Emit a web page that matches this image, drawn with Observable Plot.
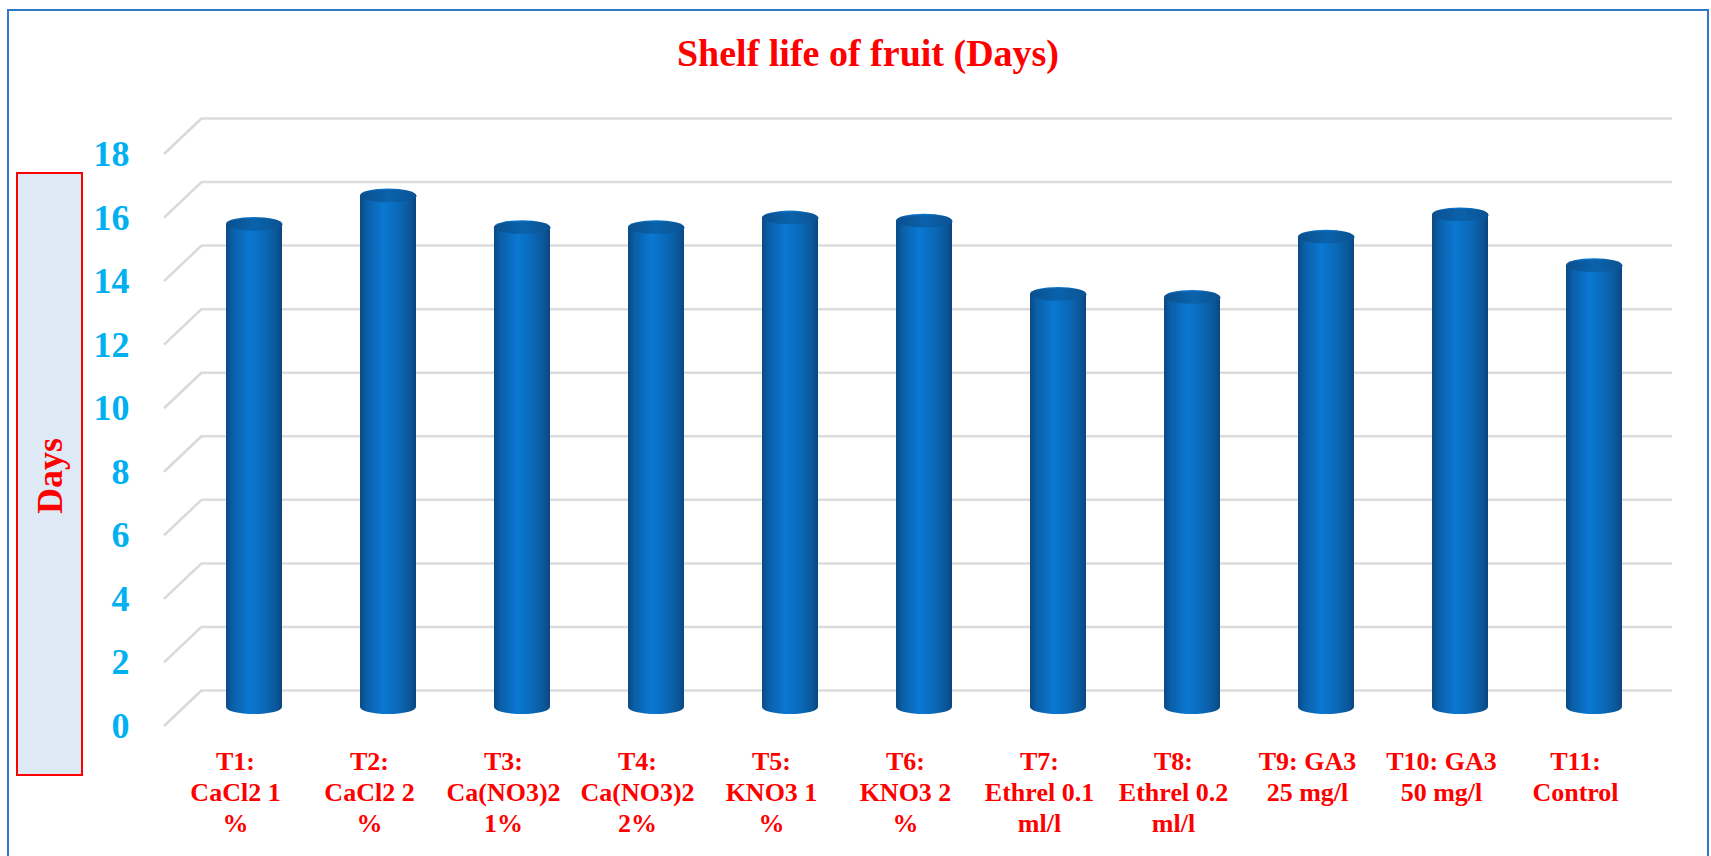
<!DOCTYPE html>
<html>
<head>
<meta charset="utf-8">
<script src="https://cdn.jsdelivr.net/npm/d3@7"></script>
<script src="https://cdn.jsdelivr.net/npm/@observablehq/plot@0.6"></script>
<style>
  html, body { margin: 0; padding: 0; background: #ffffff; }
  body { width: 1711px; height: 856px; position: relative; overflow: hidden; font-family: "Liberation Serif", "Times New Roman", serif; }
  #frame { position: absolute; left: 7px; top: 9px; width: 1702px; height: 870px; box-sizing: border-box; border: 2px solid #2E78C6; pointer-events: none; z-index: 3; }
  #title { position: absolute; left: 0; top: 31px; width: 1736px; text-align: center; font-size: 38px; line-height: 44px; font-weight: bold; color: #FF0000; }
  #ybox { position: absolute; left: 16px; top: 172px; width: 67px; height: 604px; box-sizing: border-box; border: 2px solid #FF0000; background: #DEEAF6; z-index: 2; }
  #ybox span { position: absolute; left: 50%; top: 302px; transform: translate(-50%, -50%) rotate(-90deg); font-size: 36px; font-weight: bold; color: #FF0000; white-space: nowrap; line-height: 40px; }
  #chart { position: absolute; left: 0; top: 90px; }
</style>
</head>
<body>
<div id="frame"></div>
<div id="title">Shelf life of fruit (Days)</div>
<div id="ybox"><span>Days</span></div>
<div id="chart"></div>
<script>
// ---- data ----
const categories = ["T1", "T2", "T3", "T4", "T5", "T6", "T7", "T8", "T9", "T10", "T11"];
const tickLabels = [
  "T1:\nCaCl2 1\n%",
  "T2:\nCaCl2 2\n%",
  "T3:\nCa(NO3)2\n1%",
  "T4:\nCa(NO3)2\n2%",
  "T5:\nKNO3 1\n%",
  "T6:\nKNO3 2\n%",
  "T7:\nEthrel 0.1\nml/l",
  "T8:\nEthrel 0.2\nml/l",
  "T9: GA3\n25 mg/l",
  "T10: GA3\n50 mg/l",
  "T11:\nControl"
];
const shelfLife = [15.2, 16.1, 15.1, 15.1, 15.4, 15.3, 13.0, 12.9, 14.8, 15.5, 13.9];
const yTicks = [0, 2, 4, 6, 8, 10, 12, 14, 16, 18];

const rows = categories.map((c, i) => ({treatment: c, days: shelfLife[i]}));
const labelOf = new Map(categories.map((c, i) => [c, tickLabels[i]]));

// ellipse symbol for cylinder caps
const ellipse = {
  draw(ctx, size) {
    const rx = Math.sqrt(size / Math.PI);
    const ry = rx * 0.22;
    const k = 0.5523;
    ctx.moveTo(-rx, 0);
    ctx.bezierCurveTo(-rx, -ry * k, -rx * k, -ry, 0, -ry);
    ctx.bezierCurveTo(rx * k, -ry, rx, -ry * k, rx, 0);
    ctx.bezierCurveTo(rx, ry * k, rx * k, ry, 0, ry);
    ctx.bezierCurveTo(-rx * k, ry, -rx, ry * k, -rx, 0);
    ctx.closePath();
  }
};

// perspective side lines on the left of the back wall
function sideLines(index, scales, values, dimensions) {
  const g = d3.create("svg:g");
  const x0 = dimensions.marginLeft - 20;
  const x1 = dimensions.marginLeft + 18;
  for (const t of yTicks) {
    const yy = scales.y(t);
    g.append("line")
      .attr("x1", x0).attr("y1", yy + 19)
      .attr("x2", x1).attr("y2", yy - 17)
      .attr("stroke", "#d9d9d9").attr("stroke-width", 2.5);
  }
  return g.node();
}

const plot = Plot.plot({
  width: 1711,
  height: 766,
  marginLeft: 184,
  marginRight: 47,
  marginTop: 45,
  marginBottom: 149,
  style: {background: "none", fontFamily: "'Liberation Serif', 'Times New Roman', serif", overflow: "visible"},
  x: {type: "band", domain: categories, paddingInner: 0.584, paddingOuter: 0.292, label: null},
  y: {domain: [0, 18], label: null},
  marks: [
    Plot.ruleY(yTicks, {stroke: "#dcdcdc", strokeWidth: 2.5, dy: -17, insetLeft: 18, insetRight: -8}),
    sideLines,
    Plot.axisY({ticks: yTicks, tickSize: 0, tickPadding: 55, fontSize: 36, fontWeight: "bold", color: "#00B0F0", dy: 19, label: null, tickFormat: d => String(d)}),
    Plot.axisX({tickSize: 0, tickPadding: 41, fontSize: 26, fontWeight: "bold", color: "#FF0000", lineHeight: 1.19, dx: -19, label: null, tickFormat: d => labelOf.get(d)}),
    Plot.rectY(rows, {x: "treatment", y: "days", fill: "url(#cyl)", rx: 28, ry: 7, insetTop: -7, insetBottom: -7}),
    Plot.dot(rows, {x: "treatment", y: "days", r: 28, symbol: ellipse, fill: "url(#cap)", stroke: "none"})
  ]
});

// gradients for the cylinder look
const ns = "http://www.w3.org/2000/svg";
const defs = document.createElementNS(ns, "defs");
defs.innerHTML = `
  <linearGradient id="cyl" x1="0" y1="0" x2="1" y2="0">
    <stop offset="0" stop-color="#0a4a86"/>
    <stop offset="0.12" stop-color="#0b5fa8"/>
    <stop offset="0.42" stop-color="#0a78d2"/>
    <stop offset="0.7" stop-color="#0a68b6"/>
    <stop offset="0.9" stop-color="#0b5698"/>
    <stop offset="1" stop-color="#0a4680"/>
  </linearGradient>
  <linearGradient id="cap" x1="0" y1="0" x2="1" y2="0">
    <stop offset="0" stop-color="#0a508f"/>
    <stop offset="0.5" stop-color="#0b62ab"/>
    <stop offset="1" stop-color="#0a5393"/>
  </linearGradient>`;
plot.insertBefore(defs, plot.firstChild);

document.getElementById("chart").appendChild(plot);
</script>
</body>
</html>
